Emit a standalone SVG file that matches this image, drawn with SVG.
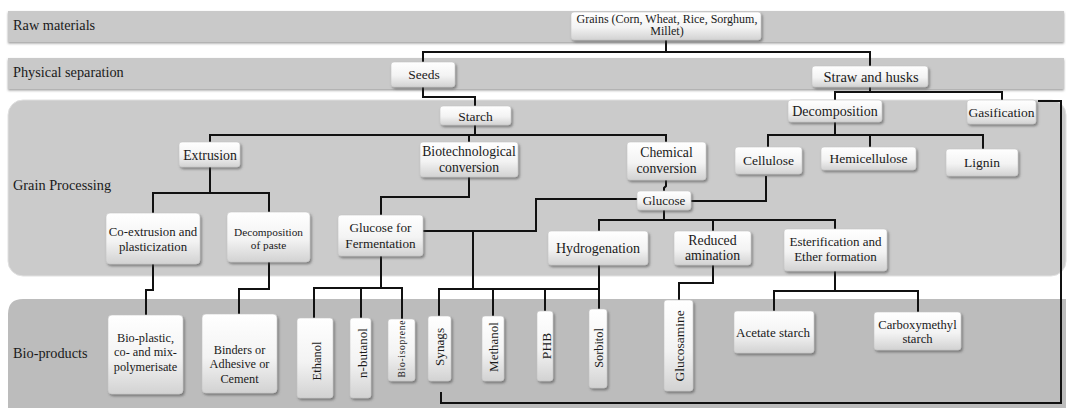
<svg xmlns="http://www.w3.org/2000/svg" width="1068" height="408" viewBox="0 0 1068 408" font-family="'Liberation Serif', serif" font-size="13.5">
<defs>
<linearGradient id="ng" x1="0" y1="0" x2="0" y2="1">
<stop offset="0" stop-color="#ffffff"/>
<stop offset="0.55" stop-color="#f3f3f3"/>
<stop offset="1" stop-color="#d2d2d2"/>
</linearGradient>
<filter id="sh" x="-20%" y="-20%" width="140%" height="150%">
<feDropShadow dx="1.5" dy="2" stdDeviation="1.2" flood-color="#444" flood-opacity="0.55"/>
</filter>
<filter id="bsh" x="-2%" y="-20%" width="104%" height="150%">
<feDropShadow dx="0" dy="1.5" stdDeviation="0.8" flood-color="#777" flood-opacity="0.7"/>
</filter>
</defs>
<style>
text{font-family:'Liberation Serif',serif;fill:#1a1a1a;text-anchor:middle}
.lab{text-anchor:start}
.n rect{fill:url(#ng);stroke:#c4c4c4;stroke-width:0.6;filter:url(#sh)}
.band{fill:#c9c9c9;filter:url(#bsh)}
#connectors path{fill:none;stroke:#111;stroke-width:2;stroke-linejoin:miter}
</style>
<rect width="1068" height="408" fill="#ffffff"/>
<g id="bands">
<rect class="band" x="8" y="11" width="1056" height="31"/>
<rect class="band" x="8" y="58" width="1056" height="31"/>
<rect x="8" y="100" width="1058" height="176" rx="15" fill="#cbcbcb" stroke="#e0e0e0" stroke-width="1"/>
<path d="M8,314 Q8,299 23,299 H1066 V408 H8 Z" fill="#bcbcbc"/>
<text class="lab" x="13" y="30" font-size="14.3">Raw materials</text>
<text class="lab" x="13" y="77" font-size="14.3">Physical separation</text>
<text class="lab" x="13" y="190" font-size="14.3">Grain Processing</text>
<text class="lab" x="13" y="358" font-size="14.3">Bio-products</text>
</g>
<g id="connectors">
<path d="M423,62 V52 H870 V66 M666,40 V52"/>
<path d="M423,87 V97 H475 V106"/>
<path d="M475,125 V135 M210,142 V135 H666 V142 M469,135 V142"/>
<path d="M870,87 V92 M835,100 V92 H1002 V100"/>
<path d="M835,122 V135 M768,147 V135 H983 V149 M870,135 V147"/>
<path d="M210,167 V193 M153,213 V193 H269 V212"/>
<path d="M153,264 V290 H146 V315"/>
<path d="M269,262 V289 H239 V314"/>
<path d="M469,177 V197 H381 V215"/>
<path d="M381,256 V288 M314,318 V288 H402 V319 M361,288 V318"/>
<path d="M423,231 H536 V199 H637 M473,231 V289"/>
<path d="M439,316 V289 H599 M493,289 V316 M545,289 V311 M599,265 V309"/>
<path d="M666,180 V186 L664,188 V191"/>
<path d="M691,201 H766 V176"/>
<path d="M664,210 V220 M599,231 V220 H835 V229 M713,220 V231"/>
<path d="M713,265 V283 H679 V300"/>
<path d="M835,271 V291 M774,311 V291 H918 V312"/>
<path d="M1038,101 H1061 V403 H441 V392"/>
</g>
<g id="grains" class="n"><rect x="571" y="12" width="190" height="28" rx="3"/><text x="667" y="22.5" font-size="12">Grains (Corn, Wheat, Rice, Sorghum,</text><text x="667" y="35" font-size="12">Millet)</text></g>
<g id="seeds" class="n"><rect x="391" y="62" width="64" height="25" rx="3"/><text x="424" y="79">Seeds</text></g>
<g id="straw" class="n"><rect x="812" y="66" width="116" height="21" rx="3"/><text x="871" y="81.5" font-size="14.5">Straw and husks</text></g>
<g id="starch" class="n"><rect x="440" y="106" width="71" height="19" rx="3"/><text x="475.5" y="120.5">Starch</text></g>
<g id="decomposition" class="n"><rect x="788" y="100" width="94" height="22" rx="3"/><text x="835" y="116" font-size="14">Decomposition</text></g>
<g id="gasification" class="n"><rect x="967" y="100" width="69" height="24" rx="3"/><text x="1001.5" y="117">Gasification</text></g>
<g id="extrusion" class="n"><rect x="179" y="142" width="61" height="25" rx="3"/><text x="210" y="159.5" font-size="13.8">Extrusion</text></g>
<g id="biotech" class="n"><rect x="420" y="142" width="98" height="35" rx="3"/><text x="469" y="156" font-size="13.7">Biotechnological</text><text x="469" y="171.5" font-size="13.7">conversion</text></g>
<g id="chemical" class="n"><rect x="627" y="142" width="79" height="38" rx="3"/><text x="666.5" y="157" font-size="13.7">Chemical</text><text x="666.5" y="172.5" font-size="13.7">conversion</text></g>
<g id="cellulose" class="n"><rect x="735" y="147" width="67" height="27" rx="3"/><text x="768.5" y="165">Cellulose</text></g>
<g id="hemicellulose" class="n"><rect x="821" y="147" width="95" height="23" rx="3"/><text x="868.5" y="163">Hemicellulose</text></g>
<g id="lignin" class="n"><rect x="946" y="149" width="72" height="27" rx="3"/><text x="982" y="167">Lignin</text></g>
<g id="glucose" class="n"><rect x="637" y="191" width="54" height="19" rx="3"/><text x="664" y="205" font-size="13">Glucose</text></g>
<g id="coextrusion" class="n"><rect x="106" y="213" width="94" height="51" rx="4"/><text x="153" y="235.5" font-size="12.8">Co-extrusion and</text><text x="153" y="251" font-size="12.8">plasticization</text></g>
<g id="decpaste" class="n"><rect x="227" y="212" width="83" height="50" rx="4"/><text x="268.5" y="235.5" font-size="11.3">Decomposition</text><text x="268.5" y="248.5" font-size="11.3">of paste</text></g>
<g id="gff" class="n"><rect x="338" y="215" width="85" height="41" rx="3"/><text x="380.5" y="232" font-size="13.2">Glucose for</text><text x="380.5" y="247.5" font-size="13.2">Fermentation</text></g>
<g id="hydrogenation" class="n"><rect x="548" y="231" width="100" height="34" rx="3"/><text x="598" y="252.5" font-size="14">Hydrogenation</text></g>
<g id="redamination" class="n"><rect x="674" y="231" width="77" height="34" rx="3"/><text x="712.5" y="244.5" font-size="13.8">Reduced</text><text x="712.5" y="259.5" font-size="13.8">amination</text></g>
<g id="esterification" class="n"><rect x="784" y="229" width="103" height="42" rx="3"/><text x="835.5" y="245.5" font-size="13">Esterification and</text><text x="835.5" y="261" font-size="13">Ether formation</text></g>
<g id="bioplastic" class="n"><rect x="108" y="315" width="75" height="79" rx="4"/><text x="145.5" y="341.5" font-size="12.3">Bio-plastic,</text><text x="145.5" y="356" font-size="12.3">co- and mix-</text><text x="145.5" y="370.5" font-size="12.3">polymerisate</text></g>
<g id="binders" class="n"><rect x="202" y="314" width="75" height="79" rx="4"/><text x="239.5" y="353.5" font-size="12.3">Binders or</text><text x="239.5" y="368" font-size="12.3">Adhesive or</text><text x="239.5" y="382.5" font-size="12.3">Cement</text></g>
<g id="ethanol" class="n"><rect x="297" y="318" width="36" height="80" rx="3"/><text transform="translate(321,361) rotate(-90)" font-size="12.5">Ethanol</text></g>
<g id="nbutanol" class="n"><rect x="350" y="318" width="21" height="80" rx="3"/><text transform="translate(367,353) rotate(-90)" font-size="13">n-butanol</text></g>
<g id="bioisoprene" class="n"><rect x="388" y="319" width="27" height="62" rx="3"/><text transform="translate(405,349) rotate(-90)" font-size="9.5" textLength="57" lengthAdjust="spacing">Bio-isoprene</text></g>
<g id="synags" class="n"><rect x="428" y="316" width="23" height="65" rx="3"/><text transform="translate(443.5,347) rotate(-90)" font-size="13.2">Synags</text></g>
<g id="methanol" class="n"><rect x="482" y="316" width="22" height="65" rx="3"/><text transform="translate(497.5,347) rotate(-90)" font-size="13">Methanol</text></g>
<g id="phb" class="n"><rect x="537" y="311" width="16" height="70" rx="3"/><text transform="translate(550.5,346) rotate(-90)">PHB</text></g>
<g id="sorbitol" class="n"><rect x="589" y="309" width="18" height="79" rx="3"/><text transform="translate(603,348) rotate(-90)" font-size="12.3">Sorbitol</text></g>
<g id="glucosamine" class="n"><rect x="664" y="300" width="29" height="91" rx="3"/><text transform="translate(683.5,346) rotate(-90)">Glucosamine</text></g>
<g id="acetate" class="n"><rect x="734" y="311" width="80" height="42" rx="3"/><text x="773" y="336.5" font-size="13">Acetate starch</text></g>
<g id="carboxymethyl" class="n"><rect x="874" y="312" width="87" height="38" rx="3"/><text x="917.5" y="329" font-size="12.6">Carboxymethyl</text><text x="917.5" y="342.5" font-size="12.6">starch</text></g>
</svg>
